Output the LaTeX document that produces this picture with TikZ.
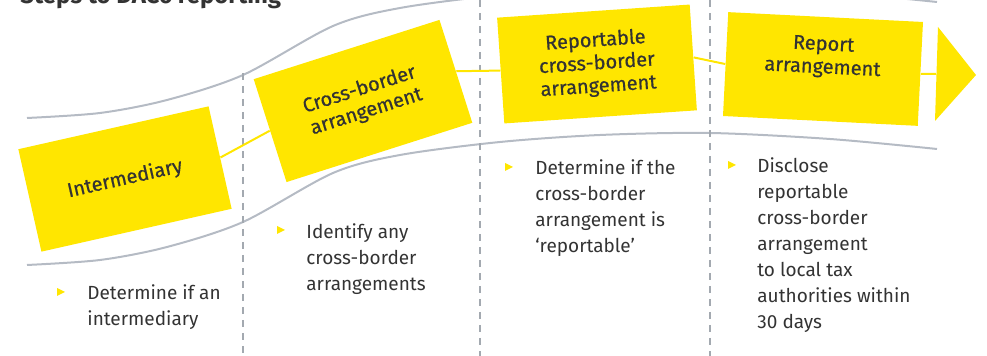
\documentclass[tikz,border=0pt]{standalone}
\usepackage{fontspec}
\setmainfont{Fira Sans}
\newfontfamily\boxfont[FakeBold=0.6]{Fira Sans}
\usetikzlibrary{positioning}

\definecolor{eyyellow}{HTML}{FFE600}
\definecolor{bandgrey}{HTML}{B5BBC4}
\definecolor{dashgrey}{HTML}{A3A9B0}
\definecolor{txtgrey}{HTML}{333333}

\tikzset{
  stepbox/.style={fill=eyyellow, minimum width=97.5pt, minimum height=52.5pt,
    inner sep=0pt, align=center, text=txtgrey,
    font=\boxfont\fontsize{10}{11.5}\selectfont},
  band/.style={bandgrey, line width=1pt},
  divider/.style={dashgrey, line width=0.8pt, dash pattern=on 3.5pt off 3pt},
  link/.style={eyyellow, line width=1pt},
  notes/.style={anchor=north west, align=left, inner sep=0pt, text=txtgrey,
    font=\fontsize{9.5}{13}\selectfont},
  tick/.style={fill=eyyellow},
}

\begin{document}
\begin{tikzpicture}[x=0.5pt, y=-0.5pt]
    \useasboundingbox (0,0) rectangle (987,356);
    \clip (0,0) rectangle (987,356);

    % Title (runs off the top edge)
    \node[anchor=base west, inner sep=0pt, text=txtgrey,
          font=\fontsize{12}{14}\selectfont\bfseries] (title) at (20,4)
        {Steps to DAC6 reporting};

    % Wavy band
    \foreach \dy in {0,-147}
        \draw[band, shift={(0,\dy)}] plot[smooth] coordinates {(27,265) (100,260)
            (167,247) (243,222) (333,173) (400,155) (500,142) (600,135)
            (710,133) (830,139) (937,149)};

    % Column dividers
    \foreach \x/\top in {243/73, 480/0, 710/0}
        \draw[divider] (\x,\top) -- (\x,356);

    % Steps
    \node[stepbox, rotate=12.7, minimum height=52.5pt] (inter) at (125,179) {Intermediary};
    \node[stepbox, rotate=17.7, minimum height=54pt] (cross) at (363,101) {Cross-border\\arrangement};
    \node[stepbox, rotate=3.9, minimum width=96.5pt, minimum height=53pt] (reportable) at (597,64)
        {Reportable\\cross-border\\arrangement};
    \node[stepbox, rotate=-2.9, minimum height=52pt] (report) at (823,69) {};
    \node[stepbox, rotate=-2.9, fill=none, minimum width=0pt, minimum height=0pt]
        (reportlbl) at ([yshift=6pt]report.center) {Report\\arrangement};

    % Arrow head
    \coordinate (head) at (936,74);
    \fill[eyyellow] (938,27) -- (976,75) -- (935,121) -- cycle;

    % Thin line joining the steps
    \draw[link] (inter.east) -- (cross.west);
    \draw[link] (cross.east) -- (reportable.west);
    \draw[link] (reportable.east) -- (report.west);
    \draw[link] (report.east) -- (head);

    % Bullets
    \foreach \x/\y in {61/292, 281/230, 509/167, 732/165}
        \fill[tick] (\x,\y) ++(-4,-4) -- ++(8,4) -- ++(-8,4) -- cycle;

    \node[notes] (note1) at (87,284) {Determine if an\\intermediary};
    \node[notes] (note2) at (306,223) {Identify any\\cross-border\\arrangements};
    \node[notes] (note3) at (535,159) {Determine if the\\cross-border\\arrangement is\\‘reportable’};
    \node[notes] (note4) at (757,157) {Disclose\\reportable\\cross-border\\arrangement\\to local tax\\authorities within\\30 days};
\end{tikzpicture}
\end{document}
